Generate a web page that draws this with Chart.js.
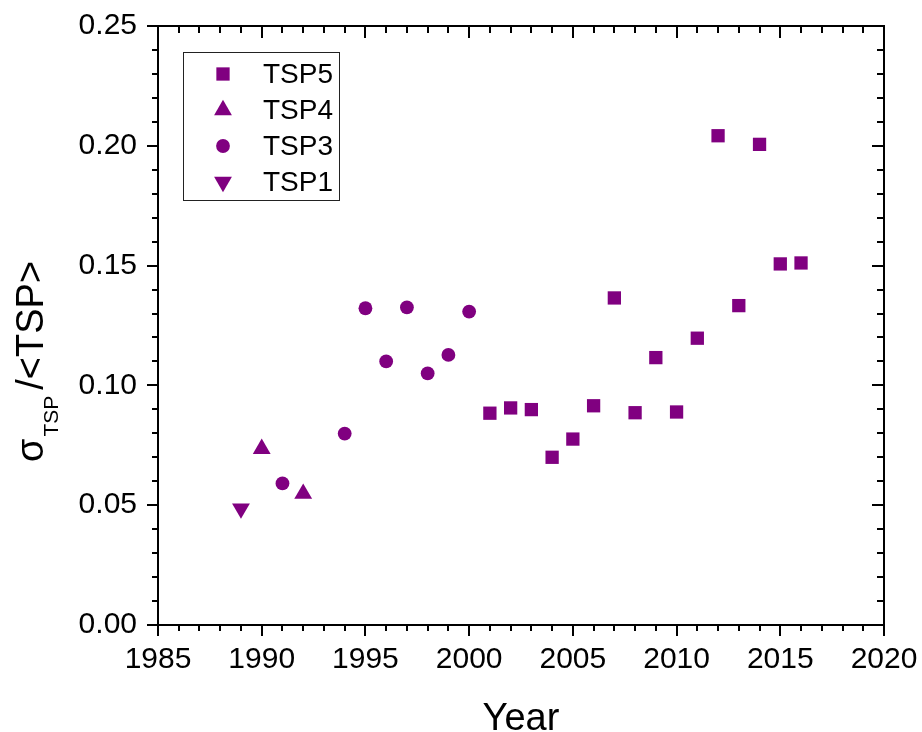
<!DOCTYPE html>
<html><head><meta charset="utf-8">
<script src="https://cdn.jsdelivr.net/npm/chart.js@4"></script>
<style>html,body{margin:0;padding:0;background:#fff}#wrap{width:922px;height:732px;position:relative}</style>
</head><body><div id="wrap"><canvas id="c" width="922" height="732"></canvas></div>
<script>
// ---- data ----
const seriesNames = ['TSP5', 'TSP4', 'TSP3', 'TSP1'];
const tsp5Years  = [2001, 2002, 2003, 2004, 2005, 2006, 2007, 2008, 2009, 2010, 2011, 2012, 2013, 2014, 2015, 2016];
const tsp5Values = [0.0884, 0.0906, 0.0899, 0.0700, 0.0776, 0.0915, 0.1365, 0.0886, 0.1116, 0.0889, 0.1197, 0.2042, 0.1333, 0.2006, 0.1507, 0.1511];
const tsp4Years  = [1990, 1992];
const tsp4Values = [0.0735, 0.0548];
const tsp3Years  = [1991, 1994, 1995, 1996, 1997, 1998, 1999, 2000];
const tsp3Values = [0.0591, 0.0799, 0.1322, 0.1100, 0.1326, 0.1050, 0.1127, 0.1308];
const tsp1Years  = [1989];
const tsp1Values = [0.0486];
const xTickLabels = [1985, 1990, 1995, 2000, 2005, 2010, 2015, 2020];
const yTickLabels = ['0.00', '0.05', '0.10', '0.15', '0.20', '0.25'];
const xTitle = 'Year';

const FONT = "'Liberation Sans', Arial, Helvetica, sans-serif";
const PURPLE = '#800080';
const xMin = xTickLabels[0], xMax = xTickLabels[xTickLabels.length - 1];
const yMin = parseFloat(yTickLabels[0]), yMax = parseFloat(yTickLabels[yTickLabels.length - 1]);

function pts(xs, ys) { return xs.map((v, i) => ({x: v, y: ys[i]})); }

const datasets = [
  {label: seriesNames[0], data: pts(tsp5Years, tsp5Values), pointStyle: 'rect', pointRadius: 9.4, rotation: 0},
  {label: seriesNames[1], data: pts(tsp4Years, tsp4Values), pointStyle: 'triangle', pointRadius: 10.3, rotation: 0},
  {label: seriesNames[2], data: pts(tsp3Years, tsp3Values), pointStyle: 'circle', pointRadius: 6.9, rotation: 0},
  {label: seriesNames[3], data: pts(tsp1Years, tsp1Values), pointStyle: 'triangle', pointRadius: 10.3, rotation: 180}
].map(d => Object.assign(d, {
  backgroundColor: PURPLE, borderColor: PURPLE, pointBorderWidth: 0, borderWidth: 0,
  pointRotation: d.rotation, showLine: false
}));

// frame, ticks (major + minor), legend and y title
const decor = {
  id: 'decor',
  afterDraw(chart) {
    const {ctx, chartArea: {left, right, top, bottom}, scales: {x, y}} = chart;
    ctx.save();
    ctx.strokeStyle = '#000';
    ctx.lineWidth = 2;
    ctx.lineCap = 'butt';
    ctx.beginPath();
    ctx.moveTo(left - 1, top); ctx.lineTo(right, top); ctx.lineTo(right, bottom + 1);
    ctx.stroke();
    // x ticks
    const xStep = xTickLabels[1] - xTickLabels[0];
    ctx.beginPath();
    for (let v = xMin; v <= xMax; v += 1) {
      const px = Math.round(x.getPixelForValue(v));
      const major = (v - xMin) % xStep === 0;
      ctx.moveTo(px, bottom); ctx.lineTo(px, bottom + (major ? 11 : 6));
      ctx.moveTo(px, top); ctx.lineTo(px, top + (major ? 12 : 7));
    }
    // y ticks
    const nMinor = 25;
    for (let i = 0; i <= nMinor; i++) {
      const v = yMin + (yMax - yMin) * i / nMinor;
      const py = Math.round(y.getPixelForValue(v));
      const major = i % 5 === 0;
      ctx.moveTo(left, py); ctx.lineTo(left - (major ? 11 : 6), py);
      ctx.moveTo(right, py); ctx.lineTo(right - (major ? 12 : 7), py);
    }
    ctx.stroke();

    // legend
    ctx.lineWidth = 1;
    ctx.strokeStyle = '#222';
    ctx.strokeRect(183.5, 52.5, 156, 148);
    ctx.font = '28px ' + FONT;
    ctx.textBaseline = 'middle';
    ctx.textAlign = 'left';
    chart.data.datasets.forEach((ds, i) => {
      const cy = 74 + i * 36;
      ctx.fillStyle = ds.backgroundColor;
      ctx.strokeStyle = ds.borderColor;
      Chart.helpers.drawPoint(ctx, {pointStyle: ds.pointStyle, radius: ds.pointRadius, rotation: ds.rotation, borderWidth: 0}, 223, cy);
      ctx.fillStyle = '#000';
      ctx.fillText(ds.label, 263, cy + 1);
    });

    // y axis title: sigma_TSP/<TSP>
    ctx.translate(43, 462);
    ctx.rotate(-Math.PI / 2);
    ctx.fillStyle = '#000';
    ctx.textBaseline = 'alphabetic';
    ctx.font = '38px ' + FONT;
    ctx.fillText('σ', 0, 0);
    let w = ctx.measureText('σ').width + 2;
    ctx.font = '21px ' + FONT;
    ctx.fillText('TSP', w, 15);
    w += 6 + ctx.measureText('TSP').width;
    ctx.font = '38px ' + FONT;
    ctx.fillText('/<TSP>', w, 0);
    ctx.restore();
  }
};

new Chart(document.getElementById('c'), {
  type: 'scatter',
  data: {datasets},
  options: {
    responsive: false,
    animation: false,
    events: [],
    layout: {padding: {left: 0, top: 26, right: 38, bottom: 0}},
    plugins: {legend: {display: false}, tooltip: {enabled: false}},
    scales: {
      x: {
        type: 'linear', min: xMin, max: xMax,
        afterFit: s => { s.height = 107; s.paddingLeft = 0; s.paddingRight = 0; },
        afterBuildTicks: s => { s.ticks = xTickLabels.map(v => ({value: v})); },
        grid: {display: true, drawOnChartArea: false, drawTicks: false},
        border: {display: true, color: '#000', width: 2},
        ticks: {color: '#000', font: {family: FONT, size: 30}, padding: 17, maxRotation: 0, autoSkip: false,
                callback: v => String(v)},
        title: {display: true, text: xTitle, color: '#000', font: {family: FONT, size: 38, lineHeight: 0.6}, padding: {top: 0, bottom: 1}}
      },
      y: {
        type: 'linear', min: yMin, max: yMax,
        afterFit: s => { s.width = 158; s.paddingTop = 0; s.paddingBottom = 0; },
        afterBuildTicks: s => { s.ticks = yTickLabels.map(v => ({value: parseFloat(v)})); },
        grid: {display: true, drawOnChartArea: false, drawTicks: false},
        border: {display: true, color: '#000', width: 2},
        ticks: {color: '#000', font: {family: FONT, size: 30}, padding: 21, autoSkip: false,
                callback: (v, i) => yTickLabels[i]}
      }
    }
  },
  plugins: [decor]
});
</script>
</body></html>
